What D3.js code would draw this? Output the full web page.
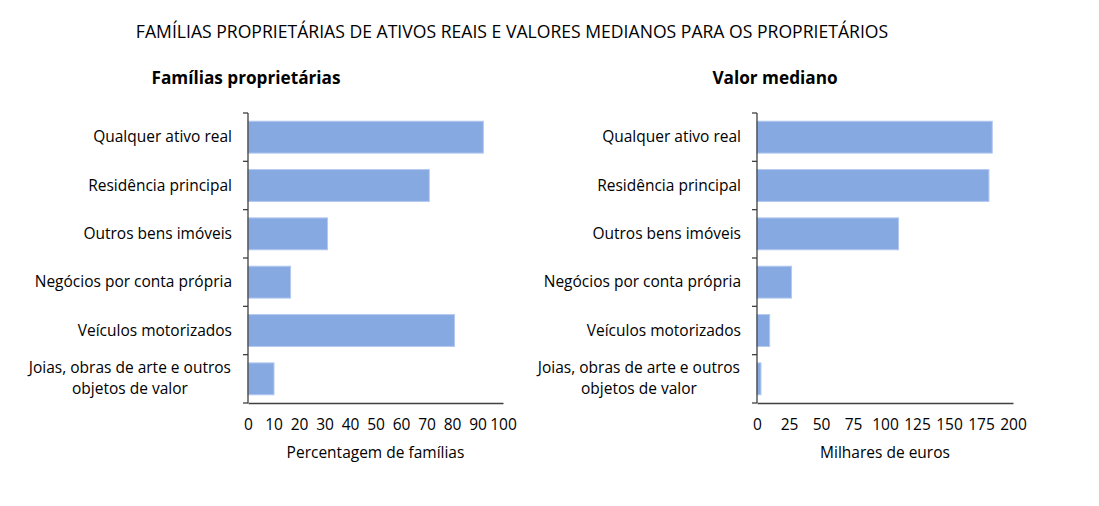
<!DOCTYPE html>
<html>
<head>
<meta charset="utf-8">
<script src="https://cdn.jsdelivr.net/npm/d3@7"></script>
<style>
  body { margin: 0; background: #fff; }
  svg text { font-family: "Open Sans", sans-serif; fill: #000; }
</style>
</head>
<body>
<svg id="chart" width="1099" height="506"></svg>
<script>
const categories = [
  "Qualquer ativo real",
  "Residência principal",
  "Outros bens imóveis",
  "Negócios por conta própria",
  "Veículos motorizados",
  "Joias, obras de arte e outros|objetos de valor"
];
const pctFamilies = [92.3, 71.1, 31.2, 16.7, 81.0, 10.2];
const medianValue = [183.8, 181.2, 110.6, 27.0, 9.9, 3.1];
const pctTicks = [0, 10, 20, 30, 40, 50, 60, 70, 80, 90, 100];
const valueTicks = [0, 25, 50, 75, 100, 125, 150, 175, 200];

const svg = d3.select("#chart");
const barColor = "#87a9e2";
const axisColor = "#404040";
const labelSize = "15.5px";

svg.append("text")
  .attr("x", 512)
  .attr("y", 38)
  .attr("text-anchor", "middle")
  .style("font-size", "17.6px")
  .text("FAMÍLIAS PROPRIETÁRIAS DE ATIVOS REAIS E VALORES MEDIANOS PARA OS PROPRIETÁRIOS");

function drawPanel(opts) {
  const x = d3.scaleLinear().domain(opts.domain).range([opts.x0, opts.x1]);
  const y = d3.scaleBand().domain(categories).range([113, 403]).paddingInner(0.34).paddingOuter(0.17);
  const g = svg.append("g");

  g.append("text")
    .attr("x", opts.titleX)
    .attr("y", 84)
    .attr("text-anchor", "middle")
    .style("font-size", "17.2px")
    .style("font-weight", "bold")
    .text(opts.title);

  g.selectAll("rect.bar")
    .data(opts.values)
    .enter()
    .append("rect")
    .attr("class", "bar")
    .attr("x", x(0))
    .attr("y", (d, i) => y(categories[i]))
    .attr("width", d => x(d) - x(0))
    .attr("height", y.bandwidth())
    .style("fill", barColor)
    .style("stroke", "#b3c9f0")
    .style("stroke-width", 1);

  // y axis line with outward ticks at band borders
  const borders = d3.range(categories.length + 1).map(i => 113 + i * (290 / categories.length));
  g.append("line")
    .attr("x1", x(0)).attr("x2", x(0))
    .attr("y1", 113).attr("y2", 403)
    .style("stroke", axisColor).style("stroke-width", 1.3);
  g.selectAll("line.tick")
    .data(borders)
    .enter()
    .append("line")
    .attr("class", "tick")
    .attr("x1", x(0) - 5).attr("x2", x(0))
    .attr("y1", d => d).attr("y2", d => d)
    .style("stroke", axisColor).style("stroke-width", 1.3);

  // category labels
  categories.forEach((c, i) => {
    const lines = c.split("|");
    const cy = y(c) + y.bandwidth() / 2;
    const right = x(0) - 16;
    if (lines.length === 1) {
      g.append("text")
        .attr("x", right)
        .attr("y", cy + 5)
        .attr("text-anchor", "end")
        .style("font-size", labelSize)
        .text(c);
    } else {
      const t = g.append("text")
        .attr("text-anchor", "middle")
        .style("font-size", labelSize);
      lines.forEach((l, j) => {
        t.append("tspan")
          .attr("x", 0)
          .attr("y", cy + 5 + (j - (lines.length - 1) / 2) * 21)
          .text(l);
      });
      const w = t.node().getBBox().width;
      t.selectAll("tspan").attr("x", right - w / 2);
    }
  });

  // x axis
  const xAxis = d3.axisBottom(x).tickValues(opts.ticks).tickSize(0).tickPadding(16);
  const ax = g.append("g")
    .attr("transform", "translate(0,403)")
    .call(xAxis);
  ax.select(".domain").style("stroke", axisColor).style("stroke-width", 1.3);
  ax.selectAll("text")
    .style("font-size", labelSize)
    .style("font-family", "'Open Sans', sans-serif")
    .attr("fill", "#000");

  g.append("text")
    .attr("x", (opts.x0 + opts.x1) / 2)
    .attr("y", 458)
    .attr("text-anchor", "middle")
    .style("font-size", labelSize)
    .text(opts.axisTitle);
}

drawPanel({
  values: pctFamilies,
  domain: [0, 100],
  ticks: pctTicks,
  x0: 248, x1: 503,
  title: "Famílias proprietárias",
  titleX: 246,
  axisTitle: "Percentagem de famílias"
});

drawPanel({
  values: medianValue,
  domain: [0, 200],
  ticks: valueTicks,
  x0: 757, x1: 1013,
  title: "Valor mediano",
  titleX: 775,
  axisTitle: "Milhares de euros"
});
</script>
</body>
</html>
